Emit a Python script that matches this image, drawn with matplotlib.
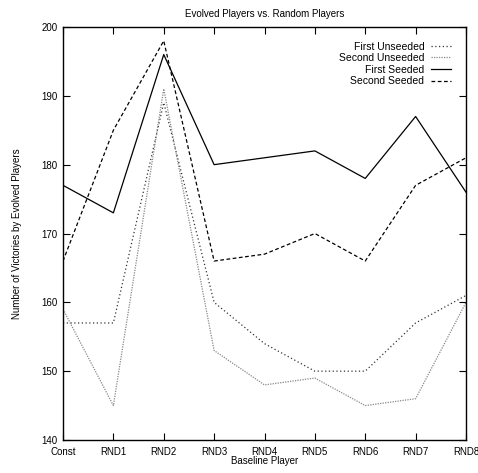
import numpy as np
import matplotlib.pyplot as plt

plt.rcParams['font.family'] = ['Liberation Sans', 'DejaVu Sans']

players = ['Const', 'RND1', 'RND2', 'RND3', 'RND4', 'RND5', 'RND6', 'RND7', 'RND8']
first_unseeded  = [157, 157, 189, 160, 154, 150, 150, 157, 161]
second_unseeded = [159, 145, 191, 153, 148, 149, 145, 146, 160]
first_seeded    = [177, 173, 196, 180, 181, 182, 178, 187, 176]
second_seeded   = [166, 185, 198, 166, 167, 170, 166, 177, 181]
yticks = [140, 150, 160, 170, 180, 190, 200]

x = np.arange(len(players))
fs = 7.0

fig = plt.figure(figsize=(4.78, 4.73), dpi=100)
ax = fig.add_axes([63/478, 33/473, 403/478, 413/473])

ax.plot(x, first_unseeded,  color='#333333', lw=0.9, ls=(0, (1, 2)),   label='First Unseeded')
ax.plot(x, second_unseeded, color='#888888', lw=0.9, ls=(0, (1, 1)),   label='Second Unseeded')
ax.plot(x, first_seeded,    color='black',   lw=0.9, ls='-',           label='First Seeded')
ax.plot(x, second_seeded,   color='black',   lw=0.9, ls=(0, (3, 2)),   label='Second Seeded')

ax.set_xlim(0, len(players) - 1)
ax.set_ylim(140, 200)
ax.set_xticks(x)
ax.set_xticklabels(players)
ax.set_yticks(yticks)
ax.tick_params(direction='in', top=True, right=True, length=5, width=0.8, labelsize=fs)
ax.tick_params(axis='x', pad=5)
ax.tick_params(axis='y', pad=4)
for s in ax.spines.values():
    s.set_linewidth(1.0)

ax.set_title('Evolved Players vs. Random Players', fontsize=fs, pad=7)
ax.set_xlabel('Baseline Player', fontsize=fs, labelpad=-1)
ax.set_ylabel('Number of Victories by Evolved Players', fontsize=fs, labelpad=14)

ax.legend(loc='upper right', frameon=False, markerfirst=False, fontsize=7.5,
          handlelength=2.0, handletextpad=0.6, labelspacing=0.15,
          borderaxespad=1.0)

fig.savefig('out.png', dpi=100)
